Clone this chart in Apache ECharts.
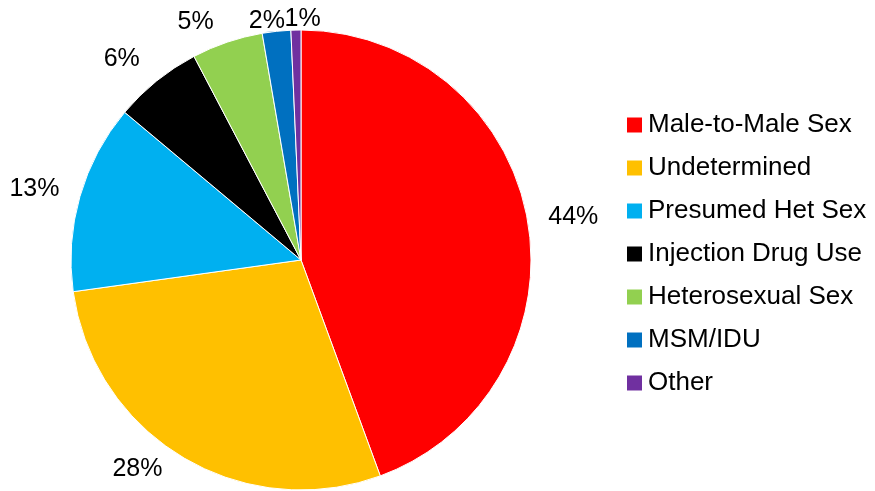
<!DOCTYPE html>
<html>
<head>
<meta charset="utf-8">
<script src="https://cdn.jsdelivr.net/npm/echarts@6/dist/echarts.min.js"></script>
<style>
  html, body { margin: 0; padding: 0; background: #fff; }
  #main { width: 875px; height: 491px; }
</style>
</head>
<body>
<div id="main"></div>
<script>
// categories and their shares (percent)
var categories = ['Male-to-Male Sex', 'Undetermined', 'Presumed Het Sex', 'Injection Drug Use', 'Heterosexual Sex', 'MSM/IDU', 'Other'];
var shares = [44.4, 28.4, 13.3, 6.2, 5.0, 2.0, 0.7];
var colors = ['#FF0000', '#FFC000', '#00B0F0', '#000000', '#92D050', '#0070C0', '#7030A0'];
// small nudges so the percentage labels sit where the original put them
var labelNudge = [[-6, 0], [0, 0], [6, -4], [5, -11], [4, -7], [23, 4], [38, 3]];

var myChart = echarts.init(document.getElementById('main'));

var pieData = categories.map(function (name, i) {
    return { name: name, value: shares[i], itemStyle: { color: colors[i] } };
});

myChart.setOption({
    animation: false,
    textStyle: { fontFamily: 'Liberation Sans, Arial, sans-serif' },
    legend: {
        orient: 'vertical',
        left: 625,
        top: 112,
        padding: 0,
        itemWidth: 17,
        itemHeight: 17,
        itemGap: 17,
        icon: 'rect',
        textStyle: { fontSize: 26, lineHeight: 26, color: '#000' },
        data: categories
    },
    series: [
        {
            type: 'pie',
            center: [301, 260],
            radius: 230,
            startAngle: 90,
            clockwise: true,
            avoidLabelOverlap: false,
            itemStyle: { borderColor: '#fff', borderWidth: 1 },
            label: {
                show: true,
                position: 'outside',
                fontSize: 25,
                color: '#000',
                formatter: function (p) { return Math.round(p.value) + '%'; }
            },
            labelLine: { show: false, length: 14, length2: 8 },
            labelLayout: function (params) {
                var n = labelNudge[params.dataIndex];
                return { dx: n[0], dy: n[1], hideOverlap: false };
            },
            data: pieData
        }
    ]
});
</script>
</body>
</html>
